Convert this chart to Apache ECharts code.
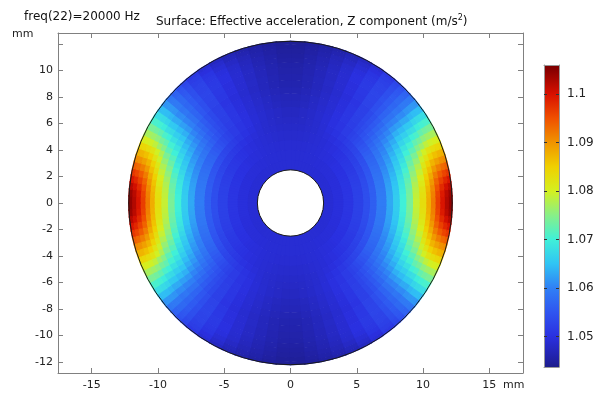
<!DOCTYPE html>
<html>
<head>
<meta charset="utf-8">
<script src="https://cdn.jsdelivr.net/npm/echarts@6/dist/echarts.min.js"></script>
<style>
html, body { margin: 0; padding: 0; background: #fff; }
#chart { width: 598px; height: 396px; }
</style>
</head>
<body>
<div id="chart"></div>
<script>
// quarter of the annulus (x >= 0, y >= 0); the picture is mirror symmetric in x and y
const ringEdges = [2.5, 3.25, 4, 4.75, 5.5, 6, 6.5, 7.25, 7.75, 8.25, 8.75, 9.25, 9.75, 10.25, 10.6, 10.95, 11.3, 11.65, 11.95, 12.2]; // mm
const sectorEdges = [0, 2.5, 5, 7.5, 10, 12.5, 15, 17.5, 20, 22.5, 25, 27.5, 30, 32.5, 35, 37.5, 40, 42.5, 45, 47.5, 50,
    55, 60, 65, 70, 75, 80, 85, 90]; // deg from +x
// effective acceleration, Z component (m/s^2): one row per ring (inner to outer), one column per sector
const accelZ = [
    [1.0491, 1.0491, 1.0491, 1.0491, 1.0491, 1.0491, 1.0491, 1.0491, 1.0491, 1.0491, 1.0491, 1.0491, 1.0490, 1.0490, 1.0490, 1.0490, 1.0490, 1.0490, 1.0490, 1.0490, 1.0490, 1.0490, 1.0490, 1.0490, 1.0490, 1.0490, 1.0490, 1.0490],
    [1.0496, 1.0496, 1.0496, 1.0496, 1.0496, 1.0496, 1.0496, 1.0495, 1.0495, 1.0495, 1.0495, 1.0495, 1.0494, 1.0494, 1.0494, 1.0494, 1.0493, 1.0493, 1.0493, 1.0493, 1.0492, 1.0492, 1.0491, 1.0491, 1.0491, 1.0490, 1.0490, 1.0490],
    [1.0507, 1.0507, 1.0507, 1.0507, 1.0506, 1.0506, 1.0506, 1.0505, 1.0505, 1.0504, 1.0503, 1.0503, 1.0502, 1.0501, 1.0500, 1.0500, 1.0499, 1.0498, 1.0497, 1.0496, 1.0495, 1.0494, 1.0492, 1.0491, 1.0490, 1.0489, 1.0488, 1.0488],
    [1.0523, 1.0523, 1.0523, 1.0522, 1.0522, 1.0521, 1.0520, 1.0519, 1.0518, 1.0517, 1.0515, 1.0514, 1.0512, 1.0511, 1.0509, 1.0508, 1.0506, 1.0504, 1.0503, 1.0501, 1.0498, 1.0495, 1.0492, 1.0490, 1.0488, 1.0486, 1.0485, 1.0484],
    [1.0541, 1.0541, 1.0540, 1.0540, 1.0539, 1.0538, 1.0536, 1.0535, 1.0533, 1.0531, 1.0529, 1.0527, 1.0525, 1.0522, 1.0520, 1.0517, 1.0515, 1.0512, 1.0510, 1.0507, 1.0503, 1.0498, 1.0494, 1.0490, 1.0486, 1.0484, 1.0482, 1.0481],
    [1.0562, 1.0562, 1.0561, 1.0560, 1.0559, 1.0557, 1.0556, 1.0553, 1.0551, 1.0549, 1.0546, 1.0543, 1.0540, 1.0536, 1.0533, 1.0529, 1.0526, 1.0522, 1.0519, 1.0515, 1.0510, 1.0503, 1.0497, 1.0491, 1.0486, 1.0483, 1.0480, 1.0479],
    [1.0595, 1.0594, 1.0593, 1.0592, 1.0590, 1.0588, 1.0585, 1.0582, 1.0579, 1.0575, 1.0572, 1.0569, 1.0565, 1.0559, 1.0554, 1.0547, 1.0540, 1.0534, 1.0527, 1.0522, 1.0515, 1.0506, 1.0499, 1.0492, 1.0487, 1.0482, 1.0479, 1.0476],
    [1.0630, 1.0629, 1.0627, 1.0625, 1.0623, 1.0619, 1.0615, 1.0610, 1.0605, 1.0600, 1.0596, 1.0590, 1.0585, 1.0577, 1.0569, 1.0560, 1.0551, 1.0543, 1.0534, 1.0527, 1.0518, 1.0508, 1.0499, 1.0491, 1.0485, 1.0479, 1.0474, 1.0471],
    [1.0660, 1.0659, 1.0657, 1.0654, 1.0650, 1.0645, 1.0640, 1.0633, 1.0627, 1.0620, 1.0614, 1.0606, 1.0599, 1.0589, 1.0580, 1.0569, 1.0558, 1.0548, 1.0538, 1.0530, 1.0520, 1.0508, 1.0498, 1.0490, 1.0483, 1.0477, 1.0472, 1.0469],
    [1.0700, 1.0699, 1.0695, 1.0691, 1.0686, 1.0680, 1.0672, 1.0663, 1.0655, 1.0646, 1.0637, 1.0627, 1.0617, 1.0605, 1.0592, 1.0579, 1.0566, 1.0554, 1.0542, 1.0533, 1.0522, 1.0508, 1.0497, 1.0489, 1.0481, 1.0474, 1.0469, 1.0465],
    [1.0740, 1.0738, 1.0734, 1.0729, 1.0722, 1.0713, 1.0704, 1.0692, 1.0681, 1.0670, 1.0659, 1.0645, 1.0632, 1.0618, 1.0603, 1.0587, 1.0572, 1.0558, 1.0544, 1.0534, 1.0522, 1.0506, 1.0495, 1.0487, 1.0479, 1.0472, 1.0466, 1.0462],
    [1.0790, 1.0787, 1.0783, 1.0776, 1.0767, 1.0756, 1.0745, 1.0730, 1.0716, 1.0700, 1.0685, 1.0668, 1.0652, 1.0635, 1.0617, 1.0599, 1.0582, 1.0566, 1.0551, 1.0540, 1.0526, 1.0510, 1.0498, 1.0488, 1.0480, 1.0472, 1.0465, 1.0460],
    [1.0830, 1.0827, 1.0822, 1.0813, 1.0803, 1.0790, 1.0776, 1.0759, 1.0742, 1.0721, 1.0703, 1.0682, 1.0662, 1.0644, 1.0623, 1.0603, 1.0584, 1.0569, 1.0554, 1.0541, 1.0527, 1.0511, 1.0498, 1.0488, 1.0478, 1.0470, 1.0463, 1.0458],
    [1.0879, 1.0876, 1.0870, 1.0860, 1.0848, 1.0831, 1.0815, 1.0795, 1.0775, 1.0748, 1.0724, 1.0700, 1.0675, 1.0654, 1.0631, 1.0609, 1.0589, 1.0572, 1.0557, 1.0544, 1.0529, 1.0513, 1.0500, 1.0488, 1.0478, 1.0469, 1.0462, 1.0456],
    [1.0919, 1.0915, 1.0908, 1.0897, 1.0882, 1.0864, 1.0845, 1.0821, 1.0798, 1.0765, 1.0737, 1.0709, 1.0680, 1.0657, 1.0631, 1.0607, 1.0586, 1.0570, 1.0556, 1.0542, 1.0526, 1.0512, 1.0500, 1.0487, 1.0476, 1.0466, 1.0459, 1.0453],
    [1.0964, 1.0960, 1.0950, 1.0936, 1.0918, 1.0896, 1.0873, 1.0848, 1.0820, 1.0786, 1.0755, 1.0725, 1.0695, 1.0669, 1.0640, 1.0615, 1.0592, 1.0573, 1.0557, 1.0542, 1.0526, 1.0510, 1.0497, 1.0484, 1.0473, 1.0464, 1.0457, 1.0451],
    [1.0997, 1.0992, 1.0980, 1.0962, 1.0942, 1.0917, 1.0890, 1.0863, 1.0832, 1.0797, 1.0765, 1.0735, 1.0703, 1.0675, 1.0645, 1.0617, 1.0592, 1.0572, 1.0554, 1.0539, 1.0522, 1.0505, 1.0491, 1.0479, 1.0469, 1.0460, 1.0454, 1.0449],
    [1.1024, 1.1019, 1.1004, 1.0983, 1.0959, 1.0931, 1.0902, 1.0873, 1.0839, 1.0803, 1.0770, 1.0740, 1.0707, 1.0678, 1.0646, 1.0617, 1.0591, 1.0568, 1.0550, 1.0534, 1.0517, 1.0498, 1.0484, 1.0472, 1.0463, 1.0457, 1.0451, 1.0446],
    [1.1044, 1.1039, 1.1021, 1.0997, 1.0970, 1.0939, 1.0906, 1.0876, 1.0840, 1.0804, 1.0771, 1.0740, 1.0707, 1.0677, 1.0644, 1.0614, 1.0587, 1.0563, 1.0543, 1.0528, 1.0510, 1.0490, 1.0476, 1.0466, 1.0458, 1.0452, 1.0447, 1.0444]
];
const xTicks = [-15, -10, -5, 0, 5, 10, 15];
const yTicks = [-12, -10, -8, -6, -4, -2, 0, 2, 4, 6, 8, 10, 12];
const yLabels = [-12, -10, -8, -6, -4, -2, 0, 2, 4, 6, 8, 10];
const barTicks = [1.05, 1.06, 1.07, 1.08, 1.09, 1.1];
const barRange = [1.0437, 1.106];
// rainbow colour table
const colorValues = [1.040, 1.045, 1.050, 1.055, 1.060, 1.065, 1.070, 1.075, 1.080, 1.085, 1.090, 1.095, 1.100, 1.105, 1.110];
const colorList = ['#141450', '#2020a0', '#2a30e0', '#2f55f0', '#3080f5', '#30c4f4', '#40f0d8', '#88f088',
    '#d4f020', '#f0d000', '#f09400', '#f05000', '#d81000', '#880000', '#400000'];

const cells = [];
accelZ.forEach(function (row, i) {
    row.forEach(function (v, j) {
        const a0 = sectorEdges[j], a1 = sectorEdges[j + 1];
        [[a0, a1], [180 - a1, 180 - a0], [180 + a0, 180 + a1], [360 - a1, 360 - a0]].forEach(function (q) {
            cells.push([ringEdges[i], ringEdges[i + 1], q[0], q[1], v]);
        });
    });
});
const outlines = [[0, 0, ringEdges[ringEdges.length - 1]], [0, 0, ringEdges[0]]];

const axisGray = '#808080';
const labelColor = '#222';
const font = 'DejaVu Sans';

// one annular cell, drawn about half a pixel larger so neighbours overlap and leave no seams
function renderCell(params, api) {
    const r0 = api.value(0), r1 = api.value(1) + 0.05;
    const pad = 0.06 / r0 * 180 / Math.PI;
    const a0 = api.value(2) - pad, a1 = api.value(3) + pad;
    const n = Math.max(2, Math.ceil((a1 - a0) / 1.5));
    const pts = [];
    for (let k = 0; k <= n; k++) {
        const a = (a0 + (a1 - a0) * k / n) * Math.PI / 180;
        pts.push(api.coord([r1 * Math.cos(a), r1 * Math.sin(a)]));
    }
    for (let k = n; k >= 0; k--) {
        const a = (a0 + (a1 - a0) * k / n) * Math.PI / 180;
        pts.push(api.coord([r0 * Math.cos(a), r0 * Math.sin(a)]));
    }
    return {type: 'polygon', shape: {points: pts}, style: {fill: api.visual('color'), stroke: null}};
}

function renderOutline(params, api) {
    const c = api.coord([api.value(0), api.value(1)]);
    const r = api.size([api.value(2), 0])[0];
    return {type: 'circle', shape: {cx: c[0], cy: c[1], r: r}, style: {fill: null, stroke: '#1a1a1a', lineWidth: 1}};
}

function renderBar(params, api) {
    const p0 = api.coord([0, colorValues[colorValues.length - 1]]);
    const p1 = api.coord([1, colorValues[0]]);
    const stops = colorList.map(function (c, i) {
        return {offset: 1 - i / (colorList.length - 1), color: c};
    }).reverse();
    return {
        type: 'rect',
        shape: {x: p0[0], y: p0[1], width: p1[0] - p0[0], height: p1[1] - p0[1]},
        style: {fill: new echarts.graphic.LinearGradient(0, 0, 0, 1, stops)}
    };
}

function frameAxis(extra) {
    return Object.assign({
        type: 'value',
        axisLine: {onZero: false, lineStyle: {color: axisGray, width: 1}},
        splitLine: {show: false}
    }, extra);
}

const chart = echarts.init(document.getElementById('chart'));
const option = {
    animation: false,
    backgroundColor: '#fff',
    textStyle: {fontFamily: font},
    title: [
        {
            text: 'freq(22)=20000 Hz', left: 24, top: 11, padding: 0,
            textStyle: {fontSize: 12, fontWeight: 'normal', color: '#111', fontFamily: font}
        },
        {
            text: '{a|Surface: Effective acceleration, Z component (m/s}{s|2}{a|)}', left: 156, top: 14, padding: 0,
            textStyle: {
                fontWeight: 'normal',
                rich: {
                    a: {fontSize: 12, color: '#111', fontFamily: font},
                    s: {fontSize: 8, color: '#111', fontFamily: font, padding: [0, 0, 7, 0]}
                }
            }
        },
        {text: 'mm', left: 12, top: 29, padding: 0, textStyle: {fontSize: 11, fontWeight: 'normal', color: labelColor, fontFamily: font}},
        {text: 'mm', left: 503, top: 380, padding: 0, textStyle: {fontSize: 11, fontWeight: 'normal', color: labelColor, fontFamily: font}}
    ],
    visualMap: {
        show: false,
        type: 'continuous',
        seriesIndex: 0,
        dimension: 4,
        min: colorValues[0],
        max: colorValues[colorValues.length - 1],
        inRange: {color: colorList}
    },
    grid: [
        {left: 58, right: 75, top: 33, bottom: 23},
        {left: 544, top: 65, width: 15, height: 302}
    ],
    xAxis: [
        frameAxis({
            gridIndex: 0, position: 'bottom', min: -17.54, max: 17.54,
            axisTick: {inside: true, length: 5, lineStyle: {color: axisGray}, customValues: xTicks},
            axisLabel: {customValues: xTicks, color: labelColor, fontSize: 11, margin: 7, fontFamily: font}
        }),
        frameAxis({
            gridIndex: 0, position: 'top', min: -17.54, max: 17.54,
            axisTick: {inside: true, length: 5, lineStyle: {color: axisGray}, customValues: xTicks},
            axisLabel: {show: false}
        }),
        frameAxis({
            gridIndex: 1, position: 'bottom', min: 0, max: 1, z: 5,
            axisLine: {onZero: false, lineStyle: {color: '#999', width: 1}},
            axisTick: {show: false}, axisLabel: {show: false}
        }),
        frameAxis({
            gridIndex: 1, position: 'top', min: 0, max: 1, z: 5,
            axisLine: {onZero: false, lineStyle: {color: '#999', width: 1}},
            axisTick: {show: false}, axisLabel: {show: false}
        })
    ],
    yAxis: [
        frameAxis({
            gridIndex: 0, position: 'left', min: -12.84, max: 12.84,
            axisTick: {inside: true, length: 5, lineStyle: {color: axisGray}, customValues: yTicks},
            axisLabel: {customValues: yLabels, color: labelColor, fontSize: 11, margin: 5, fontFamily: font}
        }),
        frameAxis({
            gridIndex: 0, position: 'right', min: -12.84, max: 12.84,
            axisTick: {inside: true, length: 5, lineStyle: {color: axisGray}, customValues: yTicks},
            axisLabel: {show: false}
        }),
        frameAxis({
            gridIndex: 1, position: 'right', min: barRange[0], max: barRange[1], z: 5,
            axisLine: {onZero: false, lineStyle: {color: '#999', width: 1}},
            axisTick: {inside: true, length: 3, lineStyle: {color: '#333'}, customValues: barTicks},
            axisLabel: {
                customValues: barTicks, color: labelColor, fontSize: 12, margin: 8, fontFamily: font,
                formatter: function (v) { return String(+v.toFixed(2)); }
            }
        }),
        frameAxis({
            gridIndex: 1, position: 'left', min: barRange[0], max: barRange[1], z: 5,
            axisLine: {onZero: false, lineStyle: {color: '#999', width: 1}},
            axisTick: {inside: true, length: 3, lineStyle: {color: '#333'}, customValues: barTicks},
            axisLabel: {show: false}
        })
    ],
    series: [
        {
            name: 'accelZ', type: 'custom', xAxisIndex: 0, yAxisIndex: 0,
            renderItem: renderCell, data: cells, silent: true
        },
        {
            name: 'outline', type: 'custom', xAxisIndex: 0, yAxisIndex: 0,
            renderItem: renderOutline, data: outlines, silent: true, z: 3
        },
        {
            name: 'colorbar', type: 'custom', xAxisIndex: 2, yAxisIndex: 2, clip: true,
            renderItem: renderBar, data: [[0, barRange[0]]], silent: true
        }
    ]
};
chart.setOption(option);
window.addEventListener('resize', function () {
    chart.resize();
});
</script>
</body>
</html>
